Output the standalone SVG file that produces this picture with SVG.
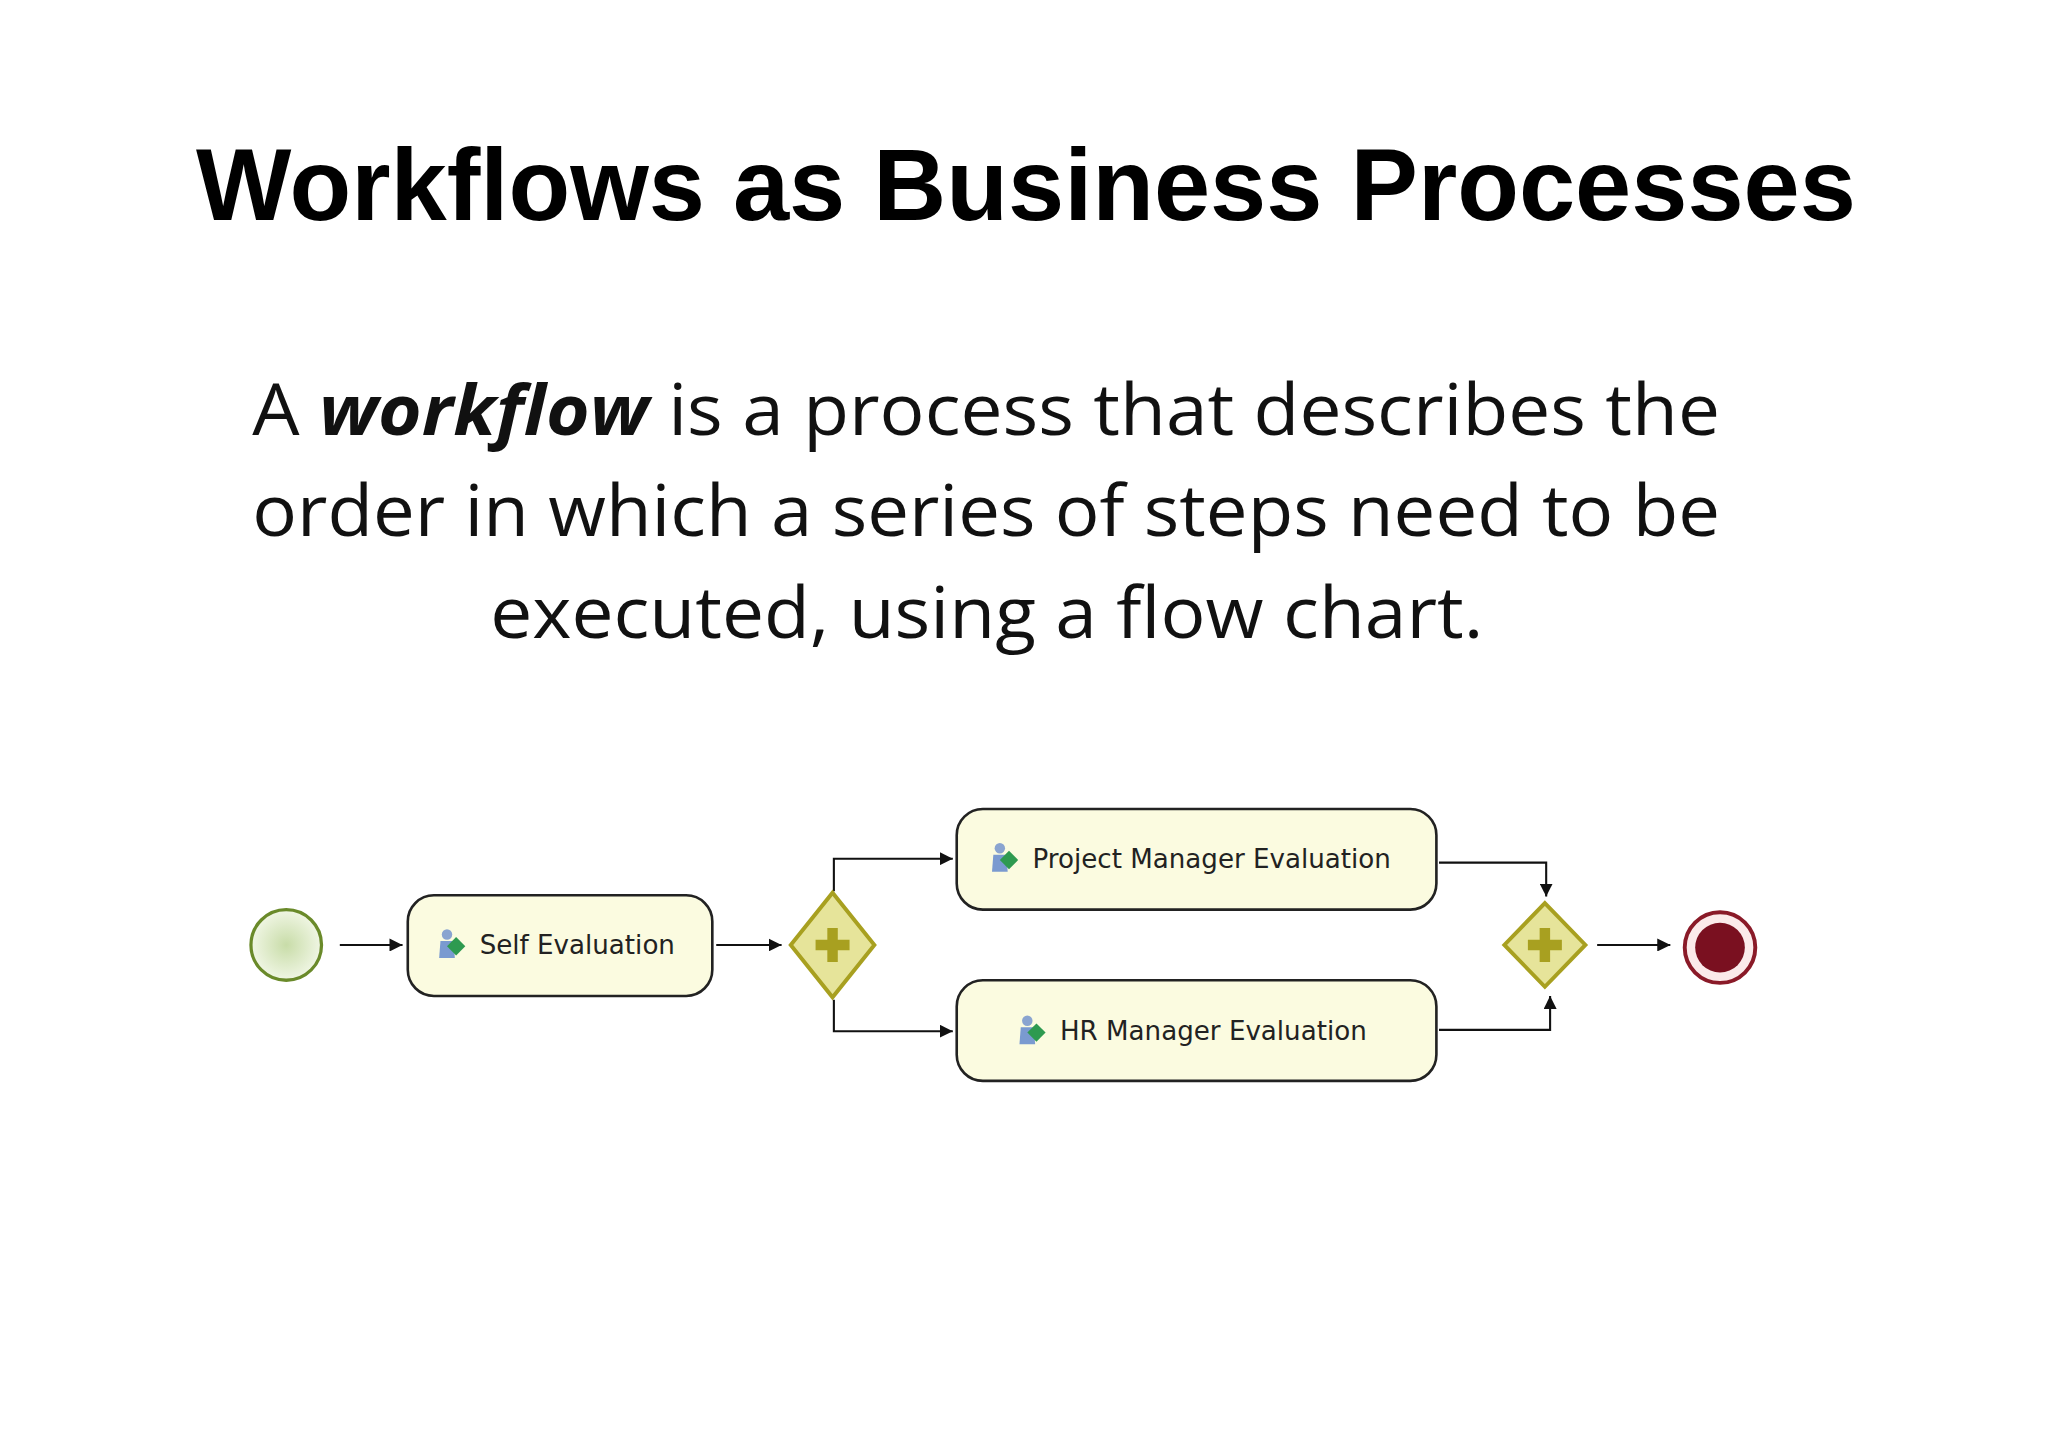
<svg xmlns="http://www.w3.org/2000/svg" width="2048" height="1447" viewBox="0 0 2048 1447">
<style>
.task{fill:#fbfbe0;stroke:#222;stroke-width:2}
.lbl{font-family:"DejaVu Sans",sans-serif;font-size:20px;fill:#222}
.con{fill:none;stroke:#111;stroke-width:1.6}
.gw{fill:#e6e49a;stroke:#a8a020;stroke-width:3}
.plus{fill:#a8a020}
</style>
<defs>
<marker id="ah" viewBox="0 0 10 10" refX="10" refY="5" markerWidth="10" markerHeight="10" markerUnits="userSpaceOnUse" orient="auto"><path d="M0,0 L10,5 L0,10 z" fill="#111"/></marker>
<radialGradient id="sg" cx="0.5" cy="0.5" r="0.5"><stop offset="0" stop-color="#c8dca8"/><stop offset="1" stop-color="#f0f6e4"/></radialGradient>
<g id="icon"><circle cx="4" cy="-8" r="4" fill="#8aa4d0"/><path d="M-2,10 L-1,-3 L9,-3 L10,10 z" fill="#7a9ad0"/><path d="M4,1 L11,-6 L18,1 L11,8 z" fill="#2e9a50"/></g>
</defs>
<rect width="2048" height="1447" fill="#fff"/>
<g transform="scale(1.307)">
<g id="title"><text x="785" y="168" text-anchor="middle" font-family="'Liberation Sans',sans-serif" font-weight="bold" font-size="78" textLength="1270" lengthAdjust="spacingAndGlyphs">Workflows as Business Processes</text></g>
<g id="body" font-family="'Open Sans',sans-serif" font-size="54" fill="#111">
<text x="193" y="333" textLength="1123" lengthAdjust="spacingAndGlyphs">A <tspan font-weight="bold" font-style="italic">workflow</tspan> is a process that describes the</text>
<text x="193" y="410" textLength="1123" lengthAdjust="spacingAndGlyphs">order in which a series of steps need to be</text>
<text x="375" y="488" textLength="760" lengthAdjust="spacingAndGlyphs">executed, using a flow chart.</text>
</g>
<g id="connectors">
<path class="con" d="M260,723 H308" marker-end="url(#ah)"/>
<path class="con" d="M548,723 H598" marker-end="url(#ah)"/>
<path class="con" d="M638,682 V657 H729" marker-end="url(#ah)"/>
<path class="con" d="M638,765 V789 H729" marker-end="url(#ah)"/>
<path class="con" d="M1101,660 H1183 V686" marker-end="url(#ah)"/>
<path class="con" d="M1101,788 H1186 V762" marker-end="url(#ah)"/>
<path class="con" d="M1222,723 H1278" marker-end="url(#ah)"/>
</g>
<g id="start"><circle cx="219" cy="723" r="27" fill="url(#sg)" stroke="#6a8a2a" stroke-width="2.5"/></g>
<g id="self"><rect class="task" x="312" y="685" width="233" height="77" rx="20"/><use href="#icon" x="338" y="723"/><text class="lbl" x="367" y="730">Self Evaluation</text></g>
<g id="split"><path class="gw" d="M637,683 L669,723 L637,763 L605,723 z"/><path class="plus" d="M633,710 h8 v9 h9 v8 h-9 v9 h-8 v-9 h-9 v-8 h9 z"/></g>
<g id="pm"><rect class="task" x="732" y="619" width="367" height="77" rx="20"/><use href="#icon" x="761" y="657"/><text class="lbl" x="790" y="664">Project Manager Evaluation</text></g>
<g id="hr"><rect class="task" x="732" y="750" width="367" height="77" rx="20"/><use href="#icon" x="782" y="789"/><text class="lbl" x="811" y="796">HR Manager Evaluation</text></g>
<g id="join"><path class="gw" d="M1182,691 L1213,723 L1182,755 L1151,723 z"/><path class="plus" d="M1178,710 h8 v9 h9 v8 h-9 v9 h-8 v-9 h-9 v-8 h9 z"/></g>
<g id="end"><circle cx="1316" cy="725" r="27" fill="#fbeaea" stroke="#8a1a28" stroke-width="3"/><circle cx="1316" cy="725" r="19" fill="#7a1020"/></g>
</g>
</svg>
